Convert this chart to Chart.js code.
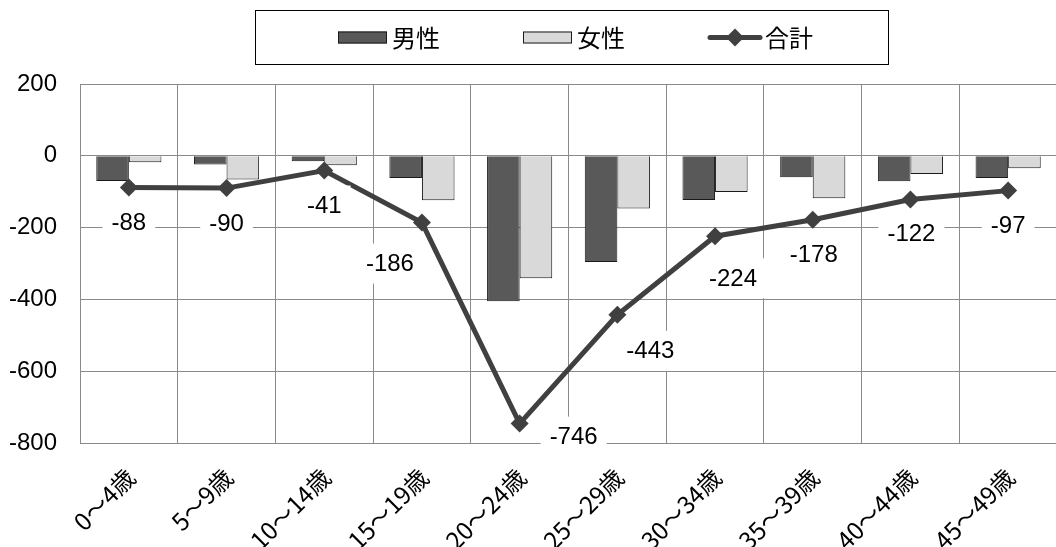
<!DOCTYPE html>
<html>
<head>
<meta charset="utf-8">
<script src="https://cdn.jsdelivr.net/npm/chart.js@4.4.0/dist/chart.umd.min.js"></script>
<style>
  html, body { margin: 0; padding: 0; background: #fff; overflow: hidden; }
  #wrap { width: 1066px; height: 547px; }
</style>
</head>
<body>
<div id="wrap"><canvas id="chart" width="1066" height="547"></canvas></div>
<script>
var ageGroups = ['0〜4歳', '5〜9歳', '10〜14歳', '15〜19歳', '20〜24歳',
                 '25〜29歳', '30〜34歳', '35〜39歳', '40〜44歳', '45〜49歳'];
var maleValues = [-70, -24, -15, -62, -405, -296, -123, -60, -71, -62];
var femaleValues = [-18, -66, -26, -124, -341, -147, -101, -118, -51, -35];
var totalValues = [-88, -90, -41, -186, -746, -443, -224, -178, -122, -97];
var yTicks = [200, 0, -200, -400, -600, -800];

// nudge of each total label from its point, [dx, dy] in px
var totalLabelShift = [[0, 35], [0, 35], [0, 35], [-32, 41], [54, 13],
                       [33, 36], [18, 42], [1, 35], [1, 34], [0, 35]];

var FONT_NUM = '"Liberation Sans", Arial, "Noto Sans CJK JP", sans-serif';
var FONT_JP = '"Noto Sans CJK JP", "Liberation Sans", sans-serif';
var GRID = '#8a8a8a';

// labels under the total line, on white boxes
var totalLabels = {
  id: 'totalLabels',
  afterDatasetsDraw: function(chart) {
    var meta = chart.getDatasetMeta(2);
    var ctx = chart.ctx;
    ctx.save();
    ctx.font = '24px ' + FONT_NUM;
    ctx.textAlign = 'center';
    ctx.textBaseline = 'middle';
    meta.data.forEach(function(pt, i) {
      var txt = String(totalValues[i]);
      var cx = pt.x + totalLabelShift[i][0];
      var cy = pt.y + totalLabelShift[i][1];
      var w = ctx.measureText(txt).width + 18;
      ctx.fillStyle = '#fff';
      ctx.fillRect(cx - w / 2, cy - 20, w, 40);
      ctx.fillStyle = '#000';
      ctx.fillText(txt, cx, cy + 1);
    });
    ctx.restore();
  }
};

// framed legend row above the plot
var boxLegend = {
  id: 'boxLegend',
  afterDraw: function(chart) {
    var ctx = chart.ctx;
    var keyX = [338, 523, 708];
    var midY = 37.5;
    ctx.save();
    ctx.strokeStyle = '#000';
    ctx.lineWidth = 1;
    ctx.strokeRect(255.5, 10.5, 633, 54);
    ctx.font = '24px ' + FONT_JP;
    ctx.textBaseline = 'middle';
    chart.data.datasets.forEach(function(ds, i) {
      var x = keyX[i];
      if (ds.type === 'line') {
        ctx.strokeStyle = ds.borderColor;
        ctx.lineWidth = 5;
        ctx.lineCap = 'round';
        ctx.beginPath();
        ctx.moveTo(x + 2, midY);
        ctx.lineTo(x + 52, midY);
        ctx.stroke();
        ctx.fillStyle = ds.pointBackgroundColor;
        ctx.beginPath();
        ctx.moveTo(x + 27, midY - 9);
        ctx.lineTo(x + 36, midY);
        ctx.lineTo(x + 27, midY + 9);
        ctx.lineTo(x + 18, midY);
        ctx.closePath();
        ctx.fill();
        x += 57;
      } else {
        ctx.fillStyle = ds.backgroundColor;
        ctx.fillRect(x, midY - 6, 49, 12);
        ctx.strokeStyle = ds.borderColor;
        ctx.lineWidth = 1;
        ctx.strokeRect(x + 0.5, midY - 5.5, 48, 11);
        x += 54;
      }
      ctx.fillStyle = '#000';
      ctx.fillText(ds.label, x, midY);
    });
    ctx.restore();
  }
};

new Chart(document.getElementById('chart'), {
  data: {
    labels: ageGroups,
    datasets: [
      {
        type: 'bar', label: '男性', data: maleValues, order: 1,
        backgroundColor: '#595959', borderColor: '#1a1a1a', borderWidth: 1,
        categoryPercentage: 0.667, barPercentage: 1.0
      },
      {
        type: 'bar', label: '女性', data: femaleValues, order: 1,
        backgroundColor: '#d9d9d9', borderColor: '#1a1a1a', borderWidth: 1,
        categoryPercentage: 0.667, barPercentage: 1.0
      },
      {
        type: 'line', label: '合計', data: totalValues, order: 0,
        borderColor: '#404040', borderWidth: 5,
        pointStyle: 'rectRot', pointRadius: 9,
        pointBackgroundColor: '#404040', pointBorderColor: '#404040', pointBorderWidth: 0,
        tension: 0
      }
    ]
  },
  options: {
    responsive: false,
    animation: false,
    layout: { padding: { top: 84, right: 3, bottom: 0, left: 0 } },
    plugins: {
      legend: { display: false },
      tooltip: { enabled: false }
    },
    scales: {
      x: {
        grid: { color: GRID, drawTicks: false },
        border: { color: GRID },
        ticks: {
          color: '#000', font: { size: 24, family: FONT_JP },
          minRotation: 45, maxRotation: 45, padding: 20, labelOffset: 2, autoSkip: false
        },
        afterFit: function(s) { s.height = 104; }
      },
      y: {
        min: -800, max: 200,
        grid: { color: GRID, drawTicks: false },
        border: { color: GRID },
        ticks: {
          color: '#000', font: { size: 24, family: FONT_NUM }, padding: 23
        },
        afterBuildTicks: function(s) {
          s.ticks = yTicks.map(function(v) { return { value: v }; });
        },
        afterFit: function(s) { s.width = 80; }
      }
    }
  },
  plugins: [totalLabels, boxLegend]
});
</script>
</body>
</html>
